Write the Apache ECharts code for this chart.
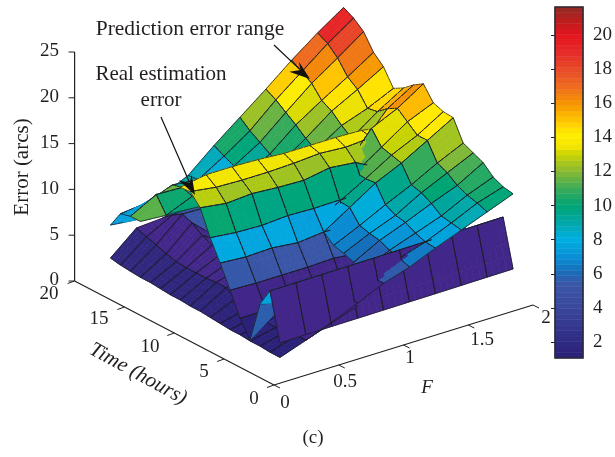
<!DOCTYPE html>
<html><head><meta charset="utf-8">
<style>html,body{margin:0;padding:0;background:#fff}#c{width:615px;height:457px}</style>
<script src="https://cdn.jsdelivr.net/npm/echarts@6/dist/echarts.min.js"></script>
</head><body><div id="c"></div>
<script>
// ---------- data ----------
const forceF = [0.2,0.4,0.6,0.8,1,1.2,1.4,1.6,1.8,2];
const hours  = [2,3,4,5,6,7,8,9,10,11,12,13,14,15,16,17,18,19];
const _ = null;
// rows: hours 2..19, columns: forceF
const predictionUpper = [
 [1,2,3.1,4.3,5.6,6.5,7.7,8.8,9.9,11],
 [_,2.2,3.3,4.4,5.6,6.9,7.8,9,10.3,11.2],
 [_,_,_,_,5.9,7.2,8.2,9.2,10.6,11.7],
 [_,_,_,_,6.2,7.7,8.8,10,11.1,12.7],
 [_,_,_,_,6.6,7.9,9,10.6,11.9,13.2],
 [_,_,_,_,6.9,8.2,9.6,10.9,12.4,13.7],
 [_,_,_,_,7.8,9.6,11.4,12.7,14.3,15.9],
 [_,_,_,_,8.2,9.7,11.3,13,14.3,16],
 [_,_,_,8.5,8.8,9.8,11.4,13.3,15.2,16.4],
 [_,_,_,8.5,9,10,11.5,14.8,16.1,17.9],
 [_,_,_,8,9,10,11,12.4,15.5,17.2],
 [_,_,_,8,9,10,11.2,12.6,14.6,16.3],
 [_,_,_,8,9,10,11.6,13.4,14.4,15.7],
 [_,8.6,8.4,8,9,10.4,12.3,14.4,15.9,17.5],
 [7.9,7.7,8.9,8,9.3,10.9,13.2,15,16.7,18.5],
 [7.9,9.4,9.3,8.2,9.9,11.6,14,16.3,18.2,20.2],
 [7.6,7.9,9,8.7,10.4,12.3,14.8,17,19.2,21.1],
 [5.8,5.5,7.3,8.6,11,13.2,15.4,17.7,19.8,21.7]
];
const realError = [
 [2.6,2.62,2.64,2.66,2.68,2.7,2.72,2.75,2.78,2.8],
 [7.7,7.72,7.74,7.76,7.78,7.8,7.82,7.84,7.87,7.9],
 [5.7,5,4,3.5,3.5,3.5,3.5,3.5,3.5,3.5],
 [1.2,3.3,2.4,2.4,2.5,2.5,2.5,2.5,2.5,2.5],
 [3,3,3,3,3,3,3,3,3,3],
 [5.5,5.4,5.4,5.4,5.5,5.2,5,5,5,5],
 [7.9,7.7,7.8,7.5,7.8,7.7,7.6,7.5,7.5,7.5],
 [10.1,9.8,9.7,9.9,9.8,9.85,9.8,9,9,9],
 [12.8,12.4,12.6,12.4,12.3,12.8,12.5,11,10,10],
 [14,13.6,13.5,13.5,13.6,13.8,13.6,13.8,13,13],
 [13.9,14.4,14.4,14.3,14.1,14.1,14.1,14,13.5,13.5]
];
const predictionLower = [
 [1,2,3,4],[1,1.9,3,4],[1.1,1.8,3,4],[1.1,1.7,2.8,3.5],[1.2,1.7,2.6,3],
 [1.2,1.8,2.4,2.6],[1.3,2,2.4,2.4],[1.4,2.6,3,2.6],[1.5,3.2,3.5,2.8],[1.5,3.2,4,3],
 [1.6,3.1,4.2,3],[1.6,3.1,4.4,3],[1.7,3.1,4.7,3.2],[1.8,3.2,5.2,3.4],[1.8,3.5,6,3.5],
 [1.9,3.9,6.4,6.3],[2,4.2,5.7,6],[2.2,4.6,4.8,5.5]
];
// cell colours that differ from the cell's own corner value: [surface, F, hour, value]
const cellColorNotes = [
 [0,0.2,16,11.4],[0,0.4,17,11.6],[0,0.4,16,10.2],[0,0.2,17,7.6],[0,0.4,15,10],[2,0.6,16,5.2],[2,0.6,17,5.2],
 [0,0.4,2,2.7],[0,0.6,2,2.7],[0,0.8,2,2.7],[0,0.6,3,2.7],[0,0.8,3,2.7]
];
const zTicks = [0,5,10,15,20,25];
const tTicks = [0,5,10,15,20];
const fTicks = [0,0.5,1,1.5,2];
const fTickText = ['0','0.5','1','1.5','2'];
const barTicks = [2,4,6,8,10,12,14,16,18,20];
const barMin = 1.06, barMax = 21.65, barLevels = 64;
const colorStops = [
 [1.06,'#2a2078'],[2,'#2f2a82'],[4,'#3a479c'],[5.4,'#3a56a6'],[6.2,'#1670bb'],
 [7,'#0a90d6'],[8,'#00aee2'],[8.5,'#00abc8'],[9,'#00a8a8'],[10,'#00a574'],[11,'#3cab58'],[12,'#88b934'],[13,'#c8d404'],
 [13.5,'#f5e600'],[14.2,'#ffee00'],[15,'#ffc400'],[16,'#f59400'],[17,'#ee6a20'],[18,'#e84a28'],[19,'#e62a28'],
 [20,'#e5141e'],[21,'#b4201e'],[21.65,'#8f2a26']
];
// the low end of the mesh prints more violet than the low end of the bar
const meshLowStops = [[1.06,'#2a2078'],[2,'#31287f'],[2.6,'#42268a'],[3.2,'#42288a'],[4,'#3a479c']];
// ---------- layout ----------
const SERIF = '"Liberation Serif","DejaVu Serif",serif';
const ink = '#231f20';
const W=615,H=457;
function project(F,t,z){ return [274+129.5*F-9.97*t, 385-40*F-5.2*t-9.16*z]; }
function farness(F,t,z){ return 91.5*F+11.8*t-4.04*z; }
function hexToRgb(h){return [1,3,5].map(i=>parseInt(h.substr(i,2),16));}
function rampColor(v,stops){
  if(v<=stops[0][0]) return stops[0][1];
  for(let i=1;i<stops.length;i++){
    if(v<=stops[i][0]){
      const a=stops[i-1],b=stops[i],k=(v-a[0])/(b[0]-a[0]);
      const p=hexToRgb(a[1]),q=hexToRgb(b[1]);
      return 'rgb('+p.map((c,j)=>Math.round(c+(q[j]-c)*k)).join(',')+')';
    }
  }
  return stops[stops.length-1][1];
}
const meshStops=meshLowStops.concat(colorStops.filter(s=>s[0]>4));
// ---------- mesh -> sorted drawing list ----------
const N=4, items=[];
function addSurface(rows,idx,colCap){
  for(let r=0;r+1<rows.length;r++){
    const cols=rows[r].length;
    for(let c=0;c+1<cols;c++){
      const z00=rows[r][c],z01=rows[r][c+1],z10=rows[r+1][c],z11=rows[r+1][c+1];
      if(z00==null||z01==null||z10==null||z11==null) continue;
      const F0=forceF[c],F1=forceF[c+1],t0=hours[r],t1=hours[r+1];
      let val=colCap?Math.min(z00,colCap):z00;
      cellColorNotes.forEach(n=>{ if(n[0]===idx&&Math.abs(n[1]-F0)<.01&&n[2]===t0) val=n[3]; });
      const col=rampColor(val,meshStops);
      const P=(u,v)=>{const z=z00*(1-u)*(1-v)+z01*u*(1-v)+z10*(1-u)*v+z11*u*v;return [F0+(F1-F0)*u,t0+(t1-t0)*v,z];};
      for(let i=0;i<N;i++)for(let j=0;j<N;j++){
        const a=P(i/N,j/N),b=P((i+1)/N,j/N),d=P((i+1)/N,(j+1)/N),e=P(i/N,(j+1)/N),m=P((i+.5)/N,(j+.5)/N);
        items.push({far:farness(m[0],m[1],m[2]),pts:[a,b,d,e],col:col});
      }
      for(let i=0;i<N;i++){
        const segs=[[P(i/N,0),P((i+1)/N,0)],[P(i/N,1),P((i+1)/N,1)],[P(0,i/N),P(0,(i+1)/N)],[P(1,i/N),P(1,(i+1)/N)]];
        segs.forEach(s=>{
          const m=[(s[0][0]+s[1][0])/2,(s[0][1]+s[1][1])/2,(s[0][2]+s[1][2])/2];
          items.push({far:farness(m[0],m[1],m[2])-2.5,pts:s,line:true});
        });
      }
    }
  }
}
addSurface(predictionLower,2,2.7);
addSurface(realError,1,0);
addSurface(predictionUpper,0,0);
items.sort((a,b)=>b.far-a.far);

const axisSegs=[];
axisSegs.push([[0,20,0],[0,20,25]],[[0,20,0],[0,0,0]],[[0,0,0],[2,0,0]]);
const surfaceSeries={
  type:'custom',coordinateSystem:'cartesian2d',xAxisIndex:0,yAxisIndex:0,silent:true,animation:false,clip:false,
  progressive:0,z:3,data:items.map((d,i)=>[i]),
  encode:{x:-1,y:-1},
  renderItem:function(p,api){
    const it=items[api.value(0)];
    const pts=it.pts.map(q=>api.coord(project(q[0],q[1],q[2])));
    if(it.line) return {type:'line',shape:{x1:pts[0][0],y1:pts[0][1],x2:pts[1][0],y2:pts[1][1]},style:{stroke:'#1c1c24',lineWidth:0.8,fill:null}};
    return {type:'polygon',shape:{points:pts},style:{fill:it.col,stroke:it.col,lineWidth:0.7}};
  }
};
// axes of the 3-D box
const boxItems=[];
axisSegs.forEach(s=>boxItems.push({a:project(...s[0]),b:project(...s[1]),w:1.2}));
zTicks.forEach(z=>{const a=project(0,20,z);boxItems.push({a:a,b:[a[0]-6,a[1]],w:1});});
tTicks.forEach(t=>{const a=project(0,t,0);boxItems.push({a:a,b:[a[0]-7,a[1]+2.5],w:1});});
fTicks.forEach(f=>{const a=project(f,0,0);boxItems.push({a:a,b:[a[0]+6,a[1]+3],w:1});});
const boxSeries={
  type:'custom',xAxisIndex:0,yAxisIndex:0,silent:true,animation:false,clip:false,z:2,
  data:boxItems.map((d,i)=>[i]),encode:{x:-1,y:-1},
  renderItem:function(p,api){const d=boxItems[api.value(0)];const a=api.coord(d.a),b=api.coord(d.b);
    return {type:'line',shape:{x1:a[0],y1:a[1],x2:b[0],y2:b[1]},style:{stroke:ink,lineWidth:d.w}};}
};
// colour bar
const barStep=(barMax-barMin)/barLevels;
const barData=[];for(let i=0;i<barLevels;i++)barData.push([i]);
const barSeries={
  type:'custom',xAxisIndex:1,yAxisIndex:1,silent:true,animation:false,z:3,data:barData,encode:{x:-1,y:-1},
  renderItem:function(p,api){const i=api.value(0);
    const a=api.coord([0,barMin+i*barStep]),b=api.coord([1,barMin+(i+1)*barStep]);
    const c=rampColor(barMin+(i+.5)*barStep,colorStops);
    return {type:'rect',shape:{x:a[0],y:b[1],width:b[0]-a[0],height:a[1]-b[1]},style:{fill:c,stroke:c,lineWidth:.5}};}
};
const barFrame={
  type:'custom',xAxisIndex:1,yAxisIndex:1,silent:true,animation:false,z:6,data:[[0]],encode:{x:-1,y:-1},
  renderItem:function(p,api){const a=api.coord([0,barMin]),b=api.coord([1,barMax]);
    return {type:'rect',shape:{x:a[0],y:b[1],width:b[0]-a[0],height:a[1]-b[1]},style:{fill:null,stroke:'#2a2a33',lineWidth:1.6}};}
};
function label(text,x,y,size,opt){
  return Object.assign({type:'text',x:x,y:y,z:20,silent:true,style:{text:text,font:(opt&&opt.italic?'italic ':'')+size+'px '+SERIF,fill:ink,align:(opt&&opt.align)||'center',verticalAlign:'middle'}},opt&&opt.extra||{});
}
const zLabelY=[280,235,189,143,97,51];
const tLabelPos=[[254,399],[204,372],[150,347],[99,319],[49,294]];
const fLabelPos=[[285,403],[345,382],[410,358],[482,340],[546,318]];
const labels=[];
zTicks.forEach((z,i)=>labels.push(label(String(z),59,zLabelY[i],19,{align:'right'})));
tTicks.forEach((t,i)=>labels.push(label(String(t),tLabelPos[i][0],tLabelPos[i][1],19)));
fTicks.forEach((f,i)=>labels.push(label(fTickText[i],fLabelPos[i][0],fLabelPos[i][1],19)));
labels.push(label('F',427,388,19,{italic:true}));
labels.push(label('Time (hours)',138,374,21,{italic:true,extra:{rotation:-0.5}}));
labels.push(label('Error (arcs)',22,167,21,{extra:{rotation:Math.PI/2}}));
labels.push(label('Prediction error range',190,29,21.5));
labels.push(label('Real estimation',161,74,21));
labels.push(label('error',161,100,21));
labels.push(label('(c)',313,438,19));
// pointer arrows
function arrow(x0,y0,x1,y1){
  const L=Math.hypot(x1-x0,y1-y0),ux=(x1-x0)/L,uy=(y1-y0)/L,nx=-uy,ny=ux;
  const head=[[x1,y1],[x1-ux*20+nx*9,y1-uy*20+ny*9],[x1-ux*13,y1-uy*13],[x1-ux*20-nx*5,y1-uy*20-ny*5]];
  return [
    {type:'line',z:19,silent:true,shape:{x1:x0,y1:y0,x2:x1-ux*14,y2:y1-uy*14},style:{stroke:'#111',lineWidth:1.2}},
    {type:'polygon',z:19,silent:true,shape:{points:head},style:{fill:'#111'}}
  ];
}
const graphics=labels.concat(arrow(274,45,310,79),arrow(161,117,195,195));

const chart=echarts.init(document.getElementById('c'),null,{renderer:'canvas',width:W,height:H});
chart.setOption({
  animation:false,backgroundColor:'#fff',
  grid:[{left:0,top:0,width:W,height:H},{left:555,top:7,width:31,height:351}],
  xAxis:[{type:'value',min:0,max:W,show:false,gridIndex:0},{type:'value',min:0,max:1,show:false,gridIndex:1}],
  yAxis:[
    {type:'value',min:0,max:H,inverse:true,show:false,gridIndex:0},
    {type:'value',min:barMin,max:barMax,gridIndex:1,position:'right',splitLine:{show:false},axisLine:{show:false},
      axisTick:{show:true,inside:true,length:4,lineStyle:{color:'#222'},customValues:barTicks},
      axisLabel:{show:true,inside:false,margin:10,color:ink,fontFamily:SERIF,fontSize:19,customValues:barTicks,showMinLabel:true,showMaxLabel:true}},
    {type:'value',min:barMin,max:barMax,gridIndex:1,position:'left',splitLine:{show:false},axisLine:{show:false},
      axisTick:{show:true,inside:true,length:4,lineStyle:{color:'#222'},customValues:barTicks},axisLabel:{show:false}}
  ],
  series:[boxSeries,surfaceSeries,barSeries,barFrame],
  graphic:{elements:graphics}
});
</script></body></html>
